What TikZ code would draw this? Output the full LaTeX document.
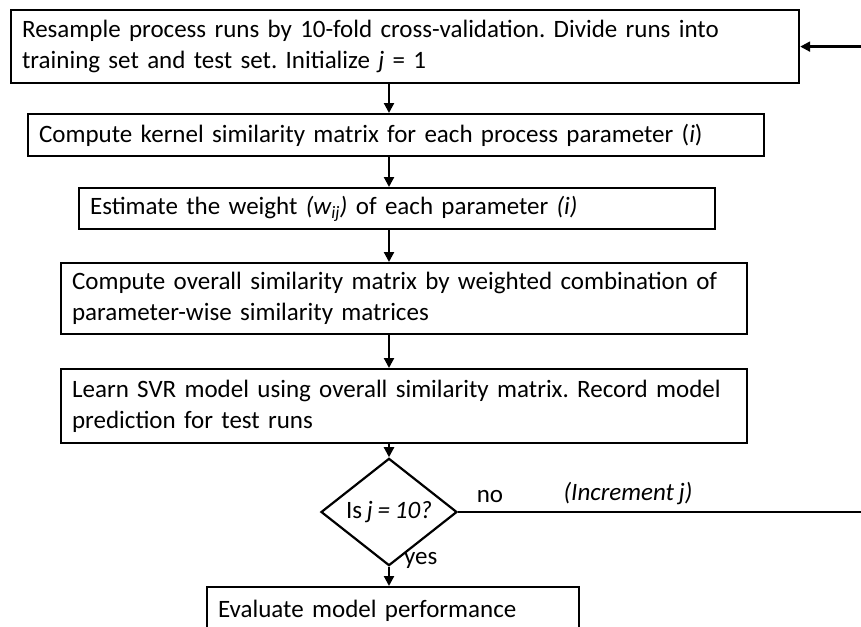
\documentclass[tikz,border=0pt]{standalone}
\usepackage{fontspec}
\setmainfont[WordSpace=0.85]{Carlito}
\usetikzlibrary{arrows.meta,shapes.geometric}
\tikzset{
  flowbox/.style={draw=black, line width=2.2pt, inner xsep=11pt, inner ysep=0pt,
    align=left, anchor=north west, font=\fontsize{25}{31}\selectfont},
  decision/.style={draw=black, line width=2.2pt, diamond, inner sep=0pt,
    minimum width=136pt, minimum height=90pt, font=\fontsize{25}{31}\selectfont},
  lbl/.style={font=\fontsize{25}{31}\selectfont, inner sep=0pt},
  arr/.style={line width=2.2pt, -{Triangle[length=10pt,width=10pt]}},
  plain/.style={line width=2.2pt}
}
\begin{document}
\frenchspacing
\begin{tikzpicture}[x=1pt,y=-1pt]
\useasboundingbox (0,0) rectangle (861,626);
\clip (0,0) rectangle (861,626);
\node[flowbox, text width=766pt, minimum height=73pt] (b1) at (10,9)
  {Resample process runs by 10-fold cross-validation. Divide runs into\\training set and test set. Initialize \textit{j} = 1};
\node[flowbox, text width=714pt, minimum height=42pt] (b2) at (27,113)
  {Compute kernel similarity matrix for each process parameter (\textit{i})};
\node[flowbox, text width=614pt, minimum height=41pt] (b3) at (78,187)
  {Estimate the weight \textit{(w\textsubscript{ij})} of each parameter \textit{(i)}};
\node[flowbox, text width=664pt, minimum height=71pt] (b4) at (60,262)
  {Compute overall similarity matrix by weighted combination of\\parameter-wise similarity matrices};
\node[flowbox, text width=664pt, minimum height=74pt] (b5) at (60,368)
  {Learn SVR model using overall similarity matrix. Record model\\prediction for test runs};
\node[decision] (d) at (389,512) {Is \textit{j = 10?}};
\node[flowbox, text width=350pt, minimum height=48pt] (b6) at (206,586)
  {Evaluate model performance};
\coordinate (rx) at (880,0);
\draw[arr] (b1.south -| d.north) -- (b2.north -| d.north);
\draw[arr] (b2.south -| d.north) -- (b3.north -| d.north);
\draw[arr] (b3.south -| d.north) -- (b4.north -| d.north);
\draw[arr] (b4.south -| d.north) -- (b5.north -| d.north);
\draw[arr] (b5.south -| d.north) -- (d.north);
\draw[arr] (d.south) -- (b6.north -| d.south);
\draw[plain] (d.east) -- (d.east -| rx) -- (rx |- b1.east);
\draw[arr] (rx |- b1.east) -- (b1.east);
\node[lbl] (no) at (490,497) {no};
\node[lbl] (inc) at (628,494) {\textit{(Increment j)}};
\node[lbl, anchor=west] (yes) at (404,560) {yes};
\end{tikzpicture}
\end{document}
